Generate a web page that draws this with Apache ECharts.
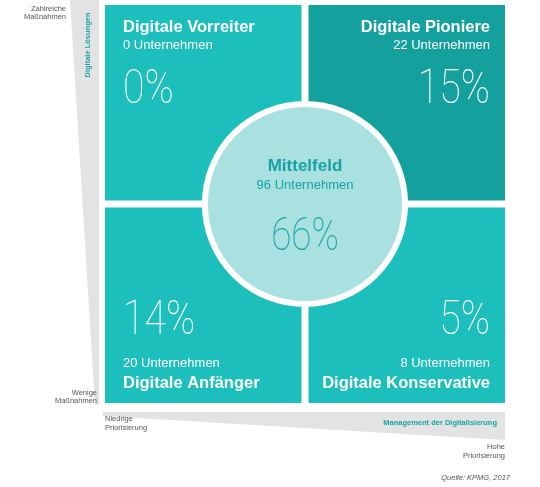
<!DOCTYPE html>
<html><head><meta charset="utf-8">
<script src="https://cdn.jsdelivr.net/npm/echarts@6/dist/echarts.min.js"></script>
<style>html,body{margin:0;padding:0;background:#fff}#c{width:540px;height:487px}</style>
</head><body><div id="c"></div>
<script>
// ---- data ----
const quadrantNames = ['Digitale Vorreiter', 'Digitale Pioniere', 'Digitale Anfänger', 'Digitale Konservative'];
const quadrantCol = [0, 1, 0, 1];
const quadrantRow = [1, 1, 0, 0];
const quadrantCompanies = [0, 22, 20, 8];
const quadrantShare = [0, 15, 14, 5];
const centerName = 'Mittelfeld';
const centerCompanies = [96];
const centerShare = [66];
const yAxisLabels = ['Wenige\nMaßnahmen', 'Zahlreiche\nMaßnahmen'];
const xAxisLabels = ['Niedrige\nPriorisierung', 'Hohe\nPriorisierung'];
const yAxisTitle = 'Digitale Lösungen';
const xAxisTitle = 'Management der Digitalisierung';
const sourceNote = 'Quelle: KPMG, 2017';
const unitWord = 'Unternehmen';

// ---- style ----
const QUAD_COLORS = ['#1dbfbc', '#14a19e', '#1dbfbc', '#1dbfbc'];
const CIRCLE_COLOR = '#a9e0e0';
const TEAL_TEXT = '#17a3a3';
const GRAY = '#e3e3e3';
const LABEL = '#555555';
const GAP = 7;
const SANS = '"Liberation Sans", Arial, sans-serif';
const THIN = 'Roboto, "Noto Sans", sans-serif';
const PCT_SCALE = 0.8;

const chart = echarts.init(document.getElementById('c'), null, {renderer: 'canvas'});

const quadData = quadrantNames.map((n, i) => [quadrantCol[i], quadrantRow[i], quadrantCompanies[i], quadrantShare[i], i]);

function renderQuadrant(params, api) {
  const i = api.value(4);
  const col = api.value(0), row = api.value(1);
  const tl = api.coord([col, row + 1]);
  const br = api.coord([col + 1, row]);
  const g = GAP / 2;
  const x = tl[0] + g, y = tl[1] + g, w = br[0] - tl[0] - 2 * g, h = br[1] - tl[1] - 2 * g;
  const left = col === 0, top = row === 1;
  const tx = left ? x + 18 : x + w - 15;
  const align = left ? 'left' : 'right';
  const titleY = top ? y + 22 : y + h - 20;
  const compY = top ? y + 40 : y + h - 40;
  const pctY = top ? y + 86 : y + h - 81;
  return {
    type: 'group',
    children: [
      {type: 'rect', shape: {x: x, y: y, width: w, height: h}, style: {fill: QUAD_COLORS[i]}},
      {type: 'text', style: {x: tx, y: titleY, text: quadrantNames[i], fill: '#fff', align: align, verticalAlign: 'middle',
        font: 'bold 16.5px ' + SANS}},
      {type: 'text', style: {x: tx, y: compY, text: api.value(2) + ' ' + unitWord, fill: '#fff', align: align, verticalAlign: 'middle',
        font: '13px ' + SANS}},
      {type: 'text', x: tx, y: pctY, scaleX: PCT_SCALE, style: {x: 0, y: 0, text: api.value(3) + '%', fill: '#fff', align: align, verticalAlign: 'middle',
        font: '100 49px ' + THIN}}
    ]
  };
}

function renderCenter(params, api) {
  const c = api.coord([api.value(0), api.value(1)]);
  const cell = api.size([1, 1]);
  const r = cell[0] * 0.477 + 3;
  return {
    type: 'group',
    children: [
      {type: 'circle', shape: {cx: c[0], cy: c[1], r: r}, style: {fill: CIRCLE_COLOR, stroke: '#fff', lineWidth: 6}},
      {type: 'text', style: {x: c[0], y: c[1] - 38, text: centerName, fill: TEAL_TEXT, align: 'center', verticalAlign: 'middle',
        font: 'bold 17px ' + SANS}},
      {type: 'text', style: {x: c[0], y: c[1] - 19, text: api.value(2) + ' ' + unitWord, fill: TEAL_TEXT, align: 'center', verticalAlign: 'middle',
        font: '13px ' + SANS}},
      {type: 'text', x: c[0], y: c[1] + 34, scaleX: PCT_SCALE, style: {x: 0, y: 0, text: api.value(3) + '%', fill: TEAL_TEXT, align: 'center', verticalAlign: 'middle',
        font: '100 46px ' + THIN}}
    ]
  };
}

const smallFont = '7.5px ' + SANS;

chart.setOption({
  animation: false,
  backgroundColor: '#fff',
  grid: {left: 101.5, top: 1.5, width: 407, height: 405},
  xAxis: {type: 'value', min: 0, max: 2, show: false},
  yAxis: {type: 'value', min: 0, max: 2, show: false},
  graphic: [
    {type: 'polygon', shape: {points: [[70, 0], [99, 0], [99, 405], [95, 405]]}, style: {fill: GRAY}, z: 0},
    {type: 'polygon', shape: {points: [[103, 412], [505, 412], [505, 440], [103, 416]]}, style: {fill: GRAY}, z: 0},
    {type: 'text', x: 88, y: 45, rotation: Math.PI / 2, style: {text: yAxisTitle, fill: TEAL_TEXT, align: 'center', verticalAlign: 'middle',
      font: 'bold 7.5px ' + SANS}, z: 5},
    {type: 'text', x: 497, y: 423, style: {text: xAxisTitle, fill: TEAL_TEXT, align: 'right', verticalAlign: 'middle',
      font: 'bold 7.5px ' + SANS}, z: 5},
    {type: 'text', x: 66, y: 4.5, style: {text: yAxisLabels[1], fill: LABEL, align: 'right', verticalAlign: 'top', font: smallFont, lineHeight: 8.5}, z: 5},
    {type: 'text', x: 97, y: 389, style: {text: yAxisLabels[0], fill: LABEL, align: 'right', verticalAlign: 'top', font: smallFont, lineHeight: 8}, z: 5},
    {type: 'text', x: 105, y: 415, style: {text: xAxisLabels[0], fill: LABEL, align: 'left', verticalAlign: 'top', font: smallFont, lineHeight: 8.5}, z: 5},
    {type: 'text', x: 505, y: 443, style: {text: xAxisLabels[1], fill: LABEL, align: 'right', verticalAlign: 'top', font: smallFont, lineHeight: 8.5}, z: 5},
    {type: 'text', x: 510, y: 478, style: {text: sourceNote, fill: LABEL, align: 'right', verticalAlign: 'middle', font: 'italic 7.5px ' + SANS}, z: 5}
  ],
  series: [
    {type: 'custom', coordinateSystem: 'cartesian2d', renderItem: renderQuadrant, data: quadData, z: 2, silent: true},
    {type: 'custom', coordinateSystem: 'cartesian2d', renderItem: renderCenter,
      data: [[1, 1, centerCompanies[0], centerShare[0]]], z: 3, silent: true}
  ]
});
</script>
</body></html>
